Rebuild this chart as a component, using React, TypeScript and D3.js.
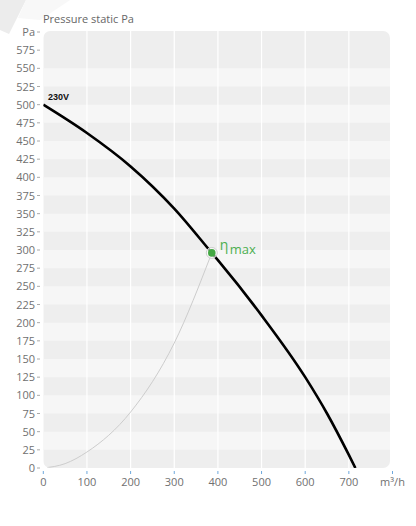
import React from "react";
import * as d3 from "d3";

const W = 416;
const H = 526;

const xTicks = [0, 100, 200, 300, 400, 500, 600, 700];
const xUnit = "m³/h";
const yTicks = [0, 25, 50, 75, 100, 125, 150, 175, 200, 225, 250, 275, 300, 325, 350, 375, 400, 425, 450, 475, 500, 525, 550, 575];
const yUnit = "Pa";
const yTitle = "Pressure static Pa";
const curveLabel = "230V";

const fanFlow = [0, 100, 200, 300, 386, 400, 500, 600, 650, 700, 715];
const fanPressure = [500, 461, 415, 357, 296, 286, 210, 125, 75, 18, 0];

const effFlow = [0, 50, 100, 200, 300, 386];
const effPressure = [0, 6, 22, 77, 172, 296];

const etaFlow = 386;
const etaPressure = 296;

const FONT = "'Open Sans', sans-serif";

export default function App() {
  const x = d3.scaleLinear().domain([0, 800]).range([43.3, 392.5]);
  const y = d3.scaleLinear().domain([0, 600]).range([468, 32]);

  const plotL = x(0);
  const plotR = 390;
  const plotT = 31;
  const plotB = y(0);

  const line = d3
    .line<[number, number]>()
    .x((d) => x(d[0]))
    .y((d) => y(d[1]))
    .curve(d3.curveMonotoneX);

  const fanPts = fanFlow.map((q, i) => [q, fanPressure[i]] as [number, number]);
  const effPts = effFlow.map((q, i) => [q, effPressure[i]] as [number, number]);

  const bands: number[] = [];
  for (let v = 25; v < 575; v += 50) bands.push(v);

  return (
    <div style={{ position: "absolute", left: 0, top: 0 }}>
      <svg width={W} height={H} style={{ display: "block", fontFamily: FONT }}>
        <defs>
          <clipPath id="plotClip">
            <rect x={plotL} y={plotT} width={plotR - plotL} height={plotB - plotT} rx={7} ry={7} />
          </clipPath>
        </defs>
        <rect width={W} height={H} fill="#fff" />
        {/* faint watermark */}
        <polygon points="0,0 26,0 9,34 0,30" fill="#ececec" />
        <polygon points="26,0 70,0 40,20 18,18" fill="#f8f8f8" />

        <g clipPath="url(#plotClip)">
          <rect x={plotL} y={plotT} width={plotR - plotL} height={plotB - plotT} fill="#eeeeee" />
          {bands.map((b) => (
            <rect key={b} x={plotL} y={y(b + 25)} width={plotR - plotL} height={y(b) - y(b + 25)} fill="#f6f6f6" />
          ))}
          {xTicks.slice(1).map((t) => (
            <line key={t} x1={x(t)} x2={x(t)} y1={plotT} y2={plotB} stroke="#ffffff" strokeWidth={1.2} />
          ))}
          <path d={line(effPts) || ""} fill="none" stroke="#cccccc" strokeWidth={1} />
          <path d={line(fanPts) || ""} fill="none" stroke="#000" strokeWidth={2.6} />
        </g>

        {/* y axis */}
        {yTicks.map((t) => (
          <g key={t}>
            <text x={35} y={y(t) + 4} textAnchor="end" fontSize={11} fill="#707070">
              {t}
            </text>
            <line x1={37} x2={40} y1={y(t)} y2={y(t)} stroke="#aaaaaa" strokeWidth={1} />
          </g>
        ))}
        <text x={35} y={y(600) + 4} textAnchor="end" fontSize={11} fill="#707070">
          {yUnit}
        </text>
        <line x1={37} x2={40} y1={y(600)} y2={y(600)} stroke="#aaaaaa" strokeWidth={1} />
        <text x={43} y={23} fontSize={11} fill="#666">
          {yTitle}
        </text>

        {/* x axis */}
        {xTicks.map((t) => (
          <g key={t}>
            <line x1={x(t)} x2={x(t)} y1={471} y2={474} stroke="#6fa8dc" strokeWidth={1} />
            <text x={x(t)} y={486} textAnchor="middle" fontSize={11} fill="#707070">
              {t}
            </text>
          </g>
        ))}
        <line x1={x(800)} x2={x(800)} y1={471} y2={474} stroke="#6fa8dc" strokeWidth={1} />
        <text x={x(800)} y={486} textAnchor="middle" fontSize={11} fill="#707070">
          {xUnit}
        </text>

        {/* curve label */}
        <text x={48} y={100} fontSize={9} fontWeight="bold" fill="#111" fontFamily="'Liberation Sans', Arial, sans-serif">
          {curveLabel}
        </text>

        {/* eta max */}
        <circle cx={x(etaFlow)} cy={y(etaPressure)} r={5.5} fill="#fff" fillOpacity={0.6} stroke="#cfcfcf" strokeWidth={1} />
        <circle cx={x(etaFlow)} cy={y(etaPressure)} r={3.8} fill="#43a843" />
        <text x={x(etaFlow) + 8} y={y(etaPressure) - 3} fontSize={14} fill="#4caf50">
          η
        </text>
        <text x={x(etaFlow) + 18} y={y(etaPressure) + 1} fontSize={13} fill="#4caf50">
          max
        </text>
      </svg>
    </div>
  );
}
